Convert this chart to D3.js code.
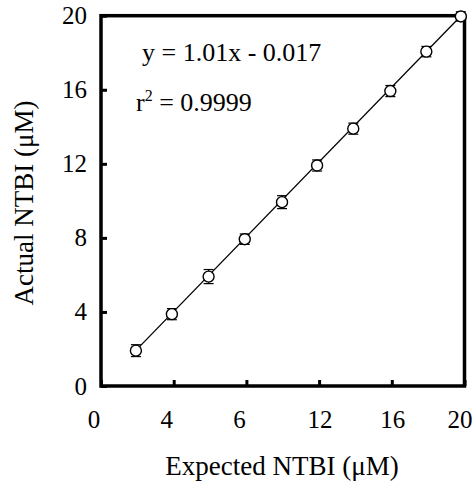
<!DOCTYPE html>
<html>
<head>
<meta charset="utf-8">
<script src="https://cdn.jsdelivr.net/npm/d3@7"></script>
<style>
  html, body { margin: 0; padding: 0; background: #fff; }
  svg { display: block; }
  text { font-family: "Liberation Serif", "Times New Roman", serif; fill: #000; }
</style>
</head>
<body>
<svg id="chart" width="474" height="481"></svg>
<script>
// Measured NTBI: expected vs actual concentration (µM), mean ± SD
const expected = [1.92, 3.9, 5.92, 7.91, 9.96, 11.89, 13.88, 15.92, 17.9, 19.8];
const actual   = [1.91, 3.88, 5.91, 7.93, 9.93, 11.91, 13.9, 15.93, 18.06, 19.96];
const sd       = [0.32, 0.3, 0.38, 0.28, 0.35, 0.3, 0.3, 0.3, 0.28, 0.25];

// Linear fit reported on the chart
const slope = 1.01;
const intercept = -0.017;
const rSquared = "0.9999";

// Axis ticks and their printed labels
const xTicks = [0, 4, 8, 12, 16, 20];
const xTickLabels = ["0", "4", "6", "12", "16", "20"];
const yTicks = [0, 4, 8, 12, 16, 20];
const yTickLabels = ["0", "4", "8", "12", "16", "20"];

const xTitle = "Expected NTBI (\u03BCM)";
const yTitle = "Actual NTBI (\u03BCM)";

const W = 474, H = 481;
const plotL = 101, plotR = 464.5, plotT = 15.7, plotB = 386;

const svg = d3.select("#chart");

const x = d3.scaleLinear().domain([0, 20]).range([plotL, plotR]);
const y = d3.scaleLinear().domain([0, 20]).range([plotB, plotT]);

// Axes with inward ticks
const xAxis = svg.append("g")
  .attr("transform", `translate(0,${plotB})`)
  .call(d3.axisBottom(x).tickValues(xTicks).tickSize(-6).tickSizeOuter(0).tickFormat(""));
const yAxis = svg.append("g")
  .attr("transform", `translate(${plotL},0)`)
  .call(d3.axisLeft(y).tickValues(yTicks).tickSize(-6).tickSizeOuter(0).tickFormat(""));
[xAxis, yAxis].forEach(g => {
  g.select(".domain").remove();
  g.selectAll(".tick line").attr("stroke", "#000").attr("stroke-width", 3);
});

// Plot frame
svg.append("rect")
  .attr("x", plotL).attr("y", plotT)
  .attr("width", plotR - plotL).attr("height", plotB - plotT)
  .attr("fill", "none").attr("stroke", "#000").attr("stroke-width", 3.5);

// X tick labels
svg.append("g").selectAll("text")
  .data(xTicks)
  .join("text")
  .attr("x", (d, i) => {
    const lab = xTickLabels[i];
    const px = x(d) + (lab.length === 1 ? -7 : 1);
    return Math.min(px, W - 14);
  })
  .attr("y", 428)
  .attr("text-anchor", "middle")
  .attr("font-size", 25)
  .text((d, i) => xTickLabels[i]);

// Y tick labels
svg.append("g").selectAll("text")
  .data(yTicks)
  .join("text")
  .attr("x", 87)
  .attr("y", d => y(d))
  .attr("dy", "0.34em")
  .attr("text-anchor", "end")
  .attr("font-size", 25)
  .text((d, i) => yTickLabels[i]);

// Regression line across the measured range
const xMin = d3.min(expected), xMax = d3.max(expected);
svg.append("line")
  .attr("x1", x(xMin)).attr("y1", y(slope * xMin + intercept))
  .attr("x2", x(xMax)).attr("y2", y(slope * xMax + intercept))
  .attr("stroke", "#000").attr("stroke-width", 1.3);

const pts = expected.map((e, i) => ({ e, a: actual[i], s: sd[i] }));

// Error bars
const eb = svg.append("g").attr("stroke", "#000").attr("stroke-width", 1.2);
pts.forEach(p => {
  const cx = x(p.e);
  eb.append("line").attr("x1", cx).attr("x2", cx).attr("y1", y(p.a - p.s)).attr("y2", y(p.a + p.s));
  eb.append("line").attr("x1", cx - 5).attr("x2", cx + 5).attr("y1", y(p.a - p.s)).attr("y2", y(p.a - p.s));
  eb.append("line").attr("x1", cx - 5).attr("x2", cx + 5).attr("y1", y(p.a + p.s)).attr("y2", y(p.a + p.s));
});

// Data markers
svg.append("g").selectAll("circle")
  .data(pts)
  .join("circle")
  .attr("cx", d => x(d.e))
  .attr("cy", d => y(d.a))
  .attr("r", 5.5)
  .attr("fill", "#fff")
  .attr("stroke", "#000")
  .attr("stroke-width", 1.4);

// Fit equation and coefficient of determination
const fitText = `y = ${slope.toFixed(2)}x - ${Math.abs(intercept).toFixed(3)}`;
svg.append("text")
  .attr("x", 142).attr("y", 61)
  .attr("font-size", 26)
  .text(fitText);

const r2 = svg.append("text")
  .attr("x", 136).attr("y", 111)
  .attr("font-size", 26);
r2.append("tspan").text("r");
r2.append("tspan").attr("font-size", 16).attr("dy", -10).text("2");
r2.append("tspan").attr("dy", 10).text(` = ${rSquared}`);

// Axis titles
svg.append("text")
  .attr("x", 282).attr("y", 475)
  .attr("text-anchor", "middle")
  .attr("font-size", 27)
  .text(xTitle);

svg.append("text")
  .attr("transform", `translate(33,203) rotate(-90)`)
  .attr("text-anchor", "middle")
  .attr("font-size", 27)
  .text(yTitle);
</script>
</body>
</html>
